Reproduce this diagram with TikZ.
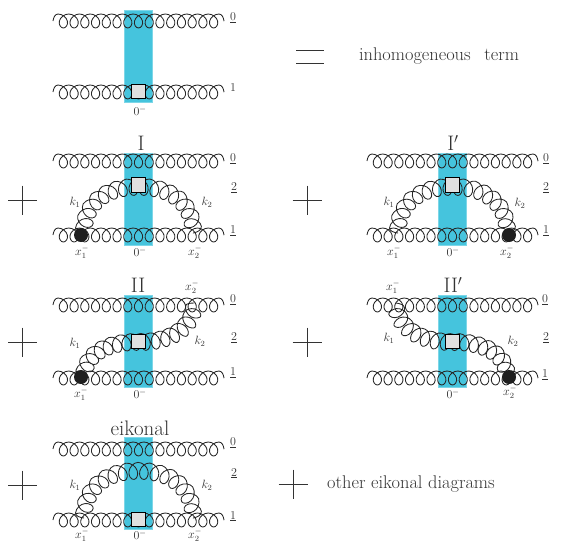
\documentclass[tikz,border=0pt]{standalone}
\usetikzlibrary{decorations}
\definecolor{bandblue}{HTML}{45C4DD}
\newcommand{\gluonloops}{15}
% one gluon: a short rise, then the loops, then a short fall
\pgfdeclaredecoration{gluonline}{hook}{
  \state{hook}[width=5pt,next state=down,persistent precomputation={
      \pgfmathsetmacro\gp{(\pgfdecoratedpathlength-10)/\gluonloops}
      \pgfmathsetmacro\ga{\pgfdecorationsegmentamplitude}
      \pgfmathsetmacro\gw{\pgfdecorationsegmentaspect*\ga}}]{
    \pgfpathcurveto{\pgfpoint{0.5pt}{0.5*\ga}}{\pgfpoint{2pt}{\ga}}{\pgfpoint{5pt}{\ga}}}
  \state{down}[switch if less than=5.5pt to tail,width=0.5*\gp,next state=up]{
    \pgfpathcurveto{\pgfpoint{\gp/12+0.5236*\gw}{\ga}}{\pgfpoint{\gp/6+\gw}{0.5236*\ga}}{\pgfpoint{\gp/4+\gw}{0pt}}
    \pgfpathcurveto{\pgfpoint{\gp/3+\gw}{-0.5236*\ga}}{\pgfpoint{5*\gp/12+0.5236*\gw}{-\ga}}{\pgfpoint{\gp/2}{-\ga}}}
  \state{up}[width=0.5*\gp,next state=down]{
    \pgfpathcurveto{\pgfpoint{\gp/12-0.5236*\gw}{-\ga}}{\pgfpoint{\gp/6-\gw}{-0.5236*\ga}}{\pgfpoint{\gp/4-\gw}{0pt}}
    \pgfpathcurveto{\pgfpoint{\gp/3-\gw}{0.5236*\ga}}{\pgfpoint{5*\gp/12-0.5236*\gw}{\ga}}{\pgfpoint{\gp/2}{\ga}}}
  \state{tail}[width=1pt,next state=final]{
    \pgfpathcurveto{\pgfpoint{3pt}{\ga}}{\pgfpoint{4.5pt}{0.5*\ga}}{\pgfpoint{5pt}{0pt}}}
  \state{final}{\pgfpathlineto{\pgfpointdecoratedpathlast}}
}
\begin{document}
\begin{tikzpicture}[x=1pt,y=-1pt,
  gluon/.style={draw=black!85,line width=0.85pt,decorate,decoration={gluonline,aspect=0.95,amplitude=7pt}},
  arcgluon/.style={gluon,decoration={aspect=0.8,amplitude=8.5pt},/utils/exec={\def\gluonloops{14}}},
  band/.style={draw=bandblue!70,fill=bandblue,line width=0.6pt,minimum width=28.5pt,inner sep=0pt},
  vertbox/.style={draw=black,thick,fill=black!12,minimum size=14.5pt,inner sep=0pt},
  blob/.style={circle,fill=black!88,minimum size=14pt,inner sep=0pt},
  lab/.style={font=\fontsize{12}{14}\selectfont,text=black!80,inner sep=0pt},
  title/.style={font=\fontsize{21}{24}\selectfont,text=black!80,inner sep=0pt},
  bigtext/.style={font=\fontsize{18.4}{22}\selectfont,text=black!80,inner sep=0pt},
  sign/.style={draw=black!80,line width=0.7pt}]
\useasboundingbox (0,0) rectangle (581,542);
% inhomogeneous term
\node[band,minimum height=92pt] (bandA) at (138.5,56) {};
\coordinate (A0l) at (53,21); \coordinate (A0r) at (224,21); \coordinate (A1l) at (53,92); \coordinate (A1r) at (224,92);
\draw[gluon] (A0l)--(A0r); \draw[gluon] (A1l)--(A1r);
\node[vertbox] (boxA) at (138.5,91.5) {};
\node[lab] (A0) at (233,18) {\underline{0}}; \node[lab] (A1) at (233,88) {1}; \node[lab] (Az) at (140,111) {$0^-$};
\coordinate (eqa) at (296,50); \coordinate (eqb) at (324,50); \coordinate (eqc) at (296,63); \coordinate (eqd) at (324,63);
\draw[sign] (eqa)--(eqb); \draw[sign] (eqc)--(eqd);
\node[bigtext] (inhom) at (439,56) {inhomogeneous\hspace{8pt} term};
% I
\node[band,minimum height=92pt] (bandB) at (138.5,199) {};
\coordinate (B0l) at (53,161); \coordinate (B0r) at (224,161); \coordinate (B1l) at (53,235); \coordinate (B1r) at (224,235);
\draw[gluon] (B0l)--(B0r); \draw[gluon] (B1l)--(B1r);
\coordinate (Bk1) at (84,233); \coordinate (Btop) at (138.5,187); \coordinate (Bk2) at (193,233);
\draw[arcgluon] (Bk1) .. controls +(0,-28) and +(-34,0) .. (Btop) .. controls +(34,0) and +(0,-28) .. (Bk2);
\node[vertbox] (boxB) at (138.5,185) {}; \node[blob] (dotB) at (81,235) {};
\node[title] (titleB) at (141,143) {I};
\node[lab] (B0) at (233,159) {\underline{0}}; \node[lab] (B2) at (234,188) {\underline{2}}; \node[lab] (B1) at (233,231) {\underline{1}};
\node[lab] (Bka) at (75,202) {$k_1$}; \node[lab] (Bkb) at (207,202) {$k_2$};
\node[lab] (Bxa) at (82,252) {$x_1^-$}; \node[lab] (Bz) at (140,252) {$0^-$}; \node[lab] (Bxb) at (195,252) {$x_2^-$};
% I prime
\node[band,minimum height=92pt] (bandC) at (452.5,199) {};
\coordinate (C0l) at (367,161); \coordinate (C0r) at (538,161); \coordinate (C1l) at (367,235); \coordinate (C1r) at (538,235);
\draw[gluon] (C0l)--(C0r); \draw[gluon] (C1l)--(C1r);
\coordinate (Ck1) at (398,233); \coordinate (Ctop) at (452.5,187); \coordinate (Ck2) at (507,233);
\draw[arcgluon] (Ck1) .. controls +(0,-28) and +(-34,0) .. (Ctop) .. controls +(34,0) and +(0,-28) .. (Ck2);
\node[vertbox] (boxC) at (452.5,185) {}; \node[blob] (dotC) at (509,235) {};
\node[title] (titleC) at (453,143) {I$'$};
\node[lab] (C0) at (546,159) {\underline{0}}; \node[lab] (C2) at (546,188) {\underline{2}}; \node[lab] (C1) at (546,231) {\underline{1}};
\node[lab] (Cka) at (389,202) {$k_1$}; \node[lab] (Ckb) at (520,203) {$k_2$};
\node[lab] (Cxa) at (394,252) {$x_1^-$}; \node[lab] (Cz) at (453,252) {$0^-$}; \node[lab] (Cxb) at (507,252) {$x_2^-$};
% II
\node[band,minimum height=92pt] (bandD) at (138.5,341) {};
\coordinate (D0l) at (53,305); \coordinate (D0r) at (224,305); \coordinate (D1l) at (53,378); \coordinate (D1r) at (224,378);
\draw[gluon] (D0l)--(D0r); \draw[gluon] (D1l)--(D1r);
\coordinate (Dk1) at (84,376); \coordinate (Dmid) at (138.5,342); \coordinate (Dk2) at (194,303);
\draw[arcgluon] (Dk1) .. controls +(2,-24) and +(-28,0) .. (Dmid) .. controls +(38,0) and +(0,20) .. (Dk2);
\node[vertbox] (boxD) at (138.5,341.5) {}; \node[blob] (dotD) at (81,377) {};
\node[title] (titleD) at (138,285) {II};
\node[lab] (D0) at (233,300) {\underline{0}}; \node[lab] (D2) at (234,338) {\underline{2}}; \node[lab] (D1) at (233,373) {\underline{1}};
\node[lab] (Dka) at (75,343) {$k_1$}; \node[lab] (Dkb) at (200,341) {$k_2$};
\node[lab] (Dxa) at (81,394) {$x_1^-$}; \node[lab] (Dz) at (140,394) {$0^-$}; \node[lab] (Dxb) at (192,287) {$x_2^-$};
% II prime
\node[band,minimum height=92pt] (bandE) at (452.5,341) {};
\coordinate (E0l) at (367,305); \coordinate (E0r) at (538,305); \coordinate (E1l) at (367,378); \coordinate (E1r) at (538,378);
\draw[gluon] (E0l)--(E0r); \draw[gluon] (E1l)--(E1r);
\coordinate (Ek1) at (396,303); \coordinate (Emid) at (452.5,342); \coordinate (Ek2) at (507,376);
\draw[arcgluon] (Ek1) .. controls +(0,20) and +(-38,0) .. (Emid) .. controls +(28,0) and +(-2,-24) .. (Ek2);
\node[vertbox] (boxE) at (452.5,341.5) {}; \node[blob] (dotE) at (509,377) {};
\node[title] (titleE) at (453,285) {II$'$};
\node[lab] (E0) at (545,300) {\underline{0}}; \node[lab] (E2) at (546,338) {\underline{2}}; \node[lab] (E1) at (545,375) {\underline{1}};
\node[lab] (Eka) at (389,338) {$k_1$}; \node[lab] (Ekb) at (513,341) {$k_2$};
\node[lab] (Exa) at (393,287) {$x_1^-$}; \node[lab] (Ez) at (453,394) {$0^-$}; \node[lab] (Exb) at (510,392) {$x_2^-$};
% eikonal
\node[band,minimum height=92pt] (bandF) at (138.5,483.5) {};
\coordinate (F0l) at (53,449); \coordinate (F0r) at (224,449); \coordinate (F1l) at (53,520); \coordinate (F1r) at (224,520);
\draw[gluon] (F0l)--(F0r); \draw[gluon] (F1l)--(F1r);
\coordinate (Fk1) at (84,518); \coordinate (Ftop) at (138.5,471); \coordinate (Fk2) at (193,518);
\draw[arcgluon] (Fk1) .. controls +(0,-28) and +(-34,0) .. (Ftop) .. controls +(34,0) and +(0,-28) .. (Fk2);
\node[vertbox] (boxF) at (138.5,519.5) {};
\node[title] (titleF) at (140,428) {eikonal};
\node[lab] (F0) at (233,443) {\underline{0}}; \node[lab] (F2) at (234,473) {\underline{2}}; \node[lab] (F1) at (233,516) {\underline{1}};
\node[lab] (Fka) at (75,485) {$k_1$}; \node[lab] (Fkb) at (207,485) {$k_2$};
\node[lab] (Fxa) at (82,535) {$x_1^-$}; \node[lab] (Fz) at (140,535) {$0^-$}; \node[lab] (Fxb) at (195,535) {$x_2^-$};
\node[bigtext] (other) at (411,484) {other eikonal diagrams};
% plus signs
\foreach \px/\py in {22.5/200,22.5/342,22.5/485,307/200,307/342,293/484}{
  \coordinate (pl) at ({\px-14.5},\py); \coordinate (pr) at ({\px+14.5},\py);
  \coordinate (pt) at (\px,{\py-14.5}); \coordinate (pb) at (\px,{\py+14.5});
  \draw[sign] (pl)--(pr); \draw[sign] (pt)--(pb);}
\end{tikzpicture}
\end{document}
